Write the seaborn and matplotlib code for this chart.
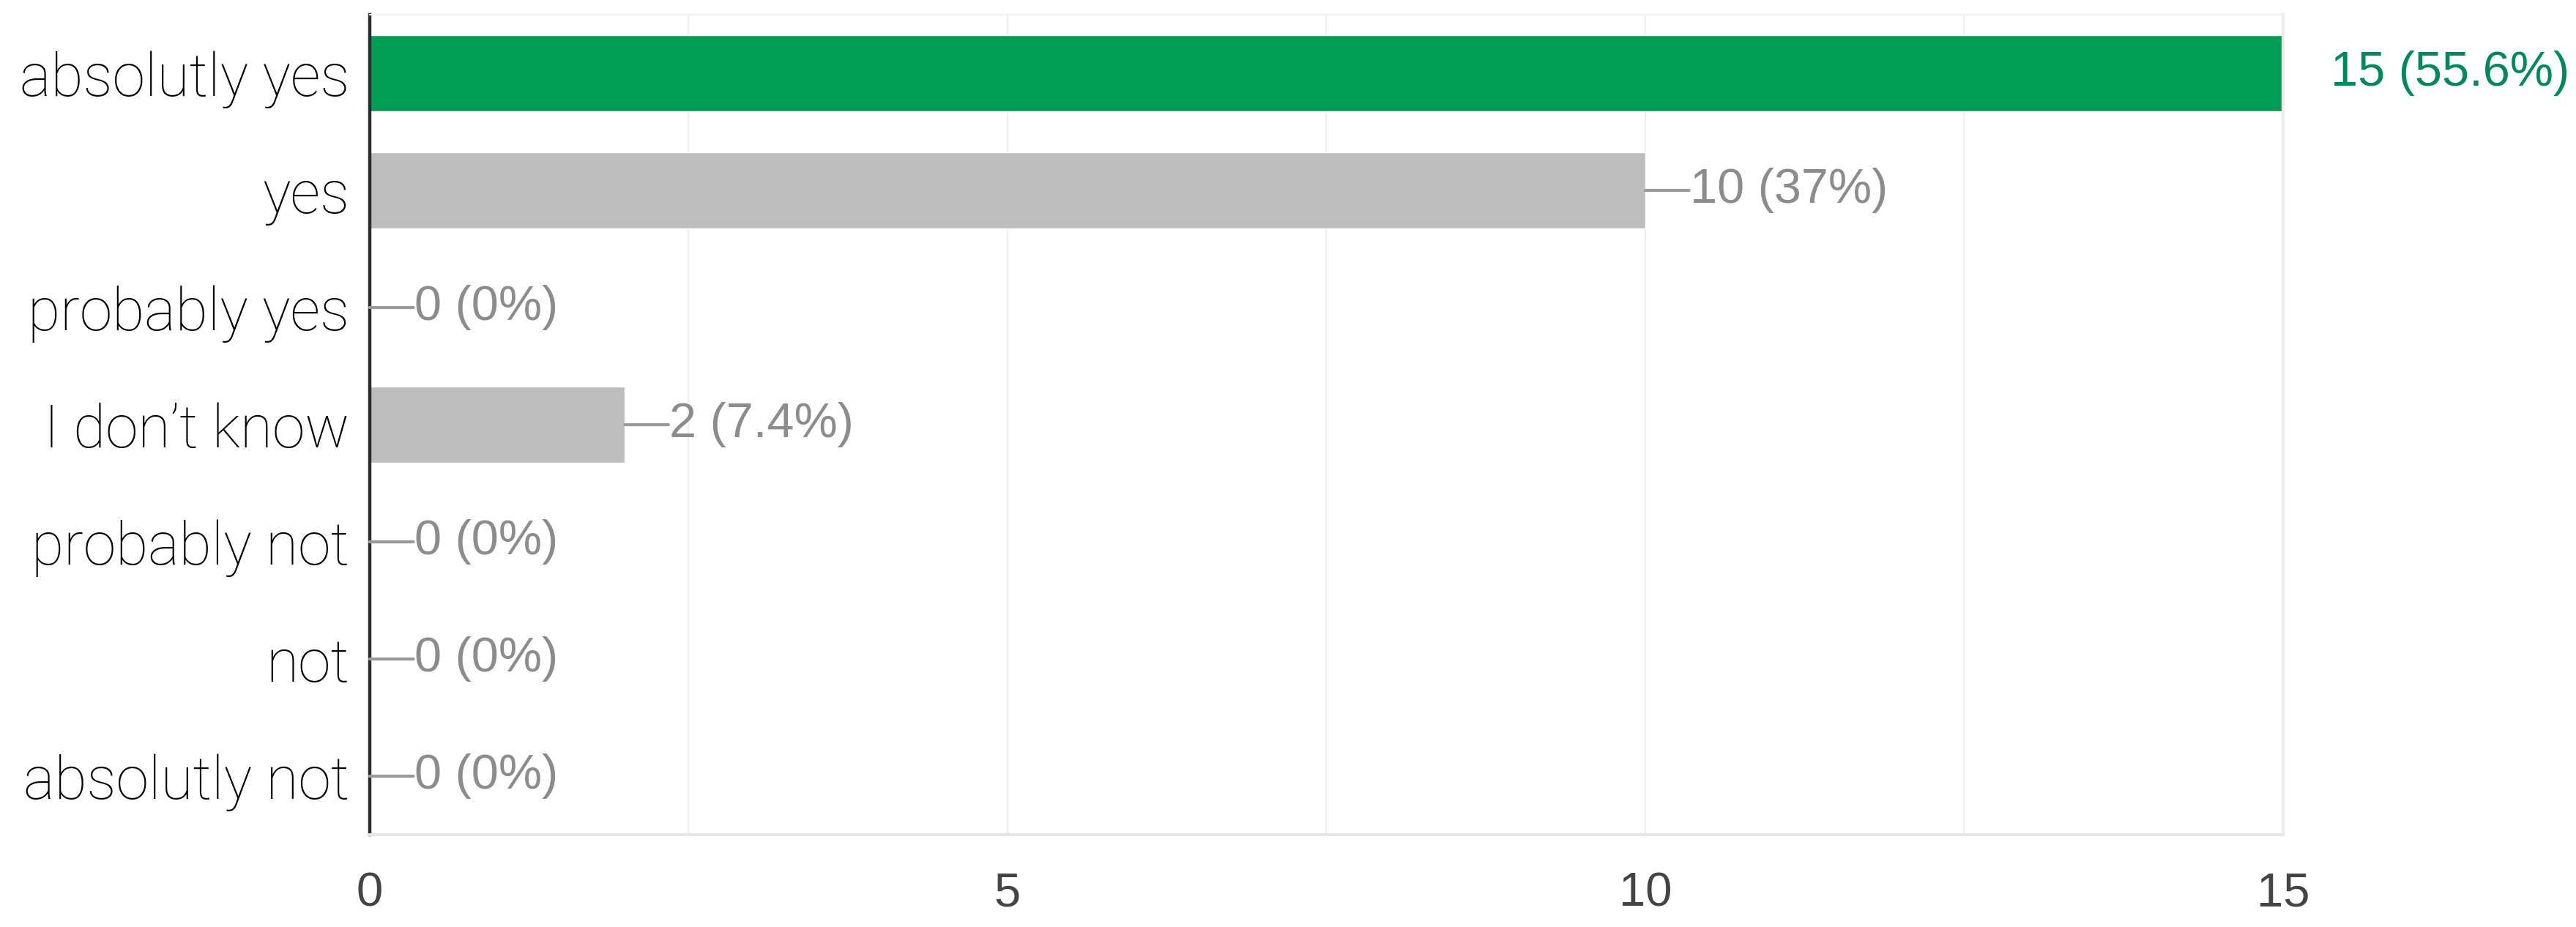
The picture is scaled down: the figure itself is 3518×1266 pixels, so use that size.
import matplotlib
matplotlib.use("Agg")
import matplotlib.pyplot as plt
from matplotlib import font_manager
from matplotlib.ticker import MultipleLocator
import seaborn as sns
import pandas as pd

categories = ["absolutly yes", "yes", "probably yes", "I don\u2019t know",
              "probably not", "not", "absolutly not"]
counts = [15, 10, 0, 2, 0, 0, 0]
labels = ["15 (55.6%)", "10 (37%)", "0 (0%)", "2 (7.4%)", "0 (0%)", "0 (0%)", "0 (0%)"]
x_ticks = [0, 5, 10, 15]

GREEN = "#009e55"
GREEN_TXT = "#00875a"
GREY = "#bdbdbd"
colors = [GREEN] + [GREY] * (len(categories) - 1)

names = {f.name for f in font_manager.fontManager.ttflist}
narrow = "Liberation Sans Narrow" if "Liberation Sans Narrow" in names else "Liberation Sans"

sns.set_theme(style="white")
plt.rcParams["font.family"] = [narrow, "DejaVu Sans"]

df = pd.DataFrame({"category": categories, "count": counts})

fig = plt.figure(figsize=(35.18, 12.66), dpi=100)
ax = fig.add_axes([0.1435, 0.0995, 0.7428, 0.8847])

sns.barplot(data=df, y="category", x="count", hue="category",
            palette=dict(zip(categories, colors)), order=categories,
            orient="h", width=0.656, legend=False, ax=ax, saturation=1)

ax.set_xlim(0, 15)
ax.set_ylim(6.5, -0.5)
ax.xaxis.set_major_locator(MultipleLocator(5))
ax.xaxis.set_minor_locator(MultipleLocator(2.5))
ax.grid(axis="x", which="both", color="#efefef", lw=1.6, zorder=0)
ax.set_axisbelow(True)
ax.set_xticks(x_ticks)
ax.set_xticklabels([str(t) for t in x_ticks])

ax.set_xlabel("")
ax.set_ylabel("")
ax.tick_params(axis="x", length=0, pad=36, labelsize=47, labelcolor="#444444")
ax.tick_params(axis="y", length=0, pad=20, labelsize=58, labelcolor="#000000")
for t in ax.get_yticklabels():
    t.set_fontfamily(["Roboto", "DejaVu Sans"])
    t.set_fontweight("light")

ax.spines["left"].set_color("#2b2b2b")
ax.spines["left"].set_linewidth(3.2)
ax.spines["bottom"].set_color("#e6e6e6")
ax.spines["bottom"].set_linewidth(3.0)
ax.spines["right"].set_color("#ebebeb")
ax.spines["right"].set_linewidth(3.0)
ax.spines["top"].set_color("#f2f2f2")
ax.spines["top"].set_linewidth(1.6)

for i, (v, lab) in enumerate(zip(counts, labels)):
    if i == 0:
        ax.annotate(lab, xy=(v, i), xytext=(47, 0), textcoords="offset points",
                    ha="left", va="center", fontsize=48, color=GREEN_TXT,
                    annotation_clip=False)
    else:
        ax.annotate("", xy=(v, i), xytext=(43, 0), textcoords="offset points",
                    arrowprops=dict(arrowstyle="-", lw=3.0, color="#9a9a9a",
                                    shrinkA=0, shrinkB=0))
        ax.annotate(lab, xy=(v, i), xytext=(44, 0), textcoords="offset points",
                    ha="left", va="center", fontsize=48, color="#8c8c8c")

fig.savefig("out.png", dpi=100)
